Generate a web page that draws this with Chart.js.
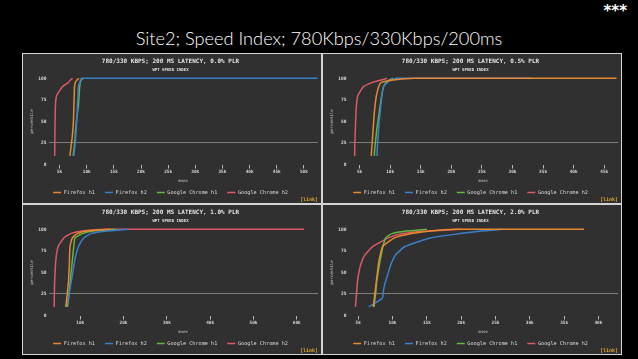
<!DOCTYPE html>
<html><head><meta charset="utf-8">
<script src="https://cdn.jsdelivr.net/npm/chart.js@4.4.0/dist/chart.umd.min.js"></script>
<style>
html,body{margin:0;padding:0;background:#000;width:638px;height:359px;overflow:hidden;}
#title{position:absolute;left:0;top:27px;width:638px;text-align:center;color:#fff;font-family:Lato,sans-serif;font-weight:300;font-size:18.2px;white-space:nowrap;}
#stars{position:absolute;right:11px;top:2px;color:#fff;font-family:"DejaVu Sans",sans-serif;font-weight:bold;font-size:15px;}
#frame{position:absolute;left:22px;top:53px;width:600px;height:302px;background:#d4d4d4;}
.panel{position:absolute;width:298px;height:149px;background:#303030;overflow:hidden;}
.panel canvas{position:absolute;left:0;top:0;}
.link{position:absolute;right:3px;bottom:1px;font:bold 5px "DejaVu Sans Mono",monospace;color:#e0a52a;}
</style></head>
<body>
<div id="title">Site2; Speed Index; 780Kbps/330Kbps/200ms</div>
<div id="stars">***</div>
<div id="frame">
  <div class="panel" style="left:1px;top:1px"><canvas id="c1" width="298" height="151"></canvas><span class="link">[link]</span></div>
  <div class="panel" style="left:301px;top:1px"><canvas id="c2" width="298" height="151"></canvas><span class="link">[link]</span></div>
  <div class="panel" style="left:1px;top:152px"><canvas id="c3" width="298" height="151"></canvas><span class="link">[link]</span></div>
  <div class="panel" style="left:301px;top:152px"><canvas id="c4" width="298" height="151"></canvas><span class="link">[link]</span></div>
</div>
<script>
// percentile levels shared by every series (last entry = maximum sample)
const PCT = [10,20,30,40,50,60,70,80,90,95,98,100,100];
const SERIES = ['Firefox h1','Firefox h2','Google Chrome h1','Google Chrome h2'];
const COLORS = ['#e8892f','#3a80c9','#62b843','#dc5a66'];
const SUBTITLE = 'WPT SPEED INDEX';
const TITLES = [
  '780/330 KBPS; 200 MS LATENCY, 0.0% PLR',
  '780/330 KBPS; 200 MS LATENCY, 0.5% PLR',
  '780/330 KBPS; 200 MS LATENCY, 1.0% PLR',
  '780/330 KBPS; 200 MS LATENCY, 2.0% PLR'
];

// Panel 1: 0.0% PLR (msec)
const P1_FF_H1 = [6900,7100,7300,7450,7550,7600,7650,7700,7750,7900,8200,8600,8600];
const P1_FF_H2 = [7600,7800,7950,8050,8150,8250,8300,8400,8450,8700,8900,9000,52500];
const P1_CH_H1 = [7500,7700,7850,7950,8100,8300,8500,8600,8700,8800,9000,9300,9300];
const P1_CH_H2 = [4100,4120,4130,4150,4170,4200,4250,4450,5500,6600,7000,7400,7400];
// Panel 2: 0.5% PLR
const P2_FF_H1 = [6900,7000,7100,7200,7300,7400,7550,7750,8100,8500,10500,14000,47000];
const P2_FF_H2 = [7850,7900,8000,8100,8200,8350,8500,8650,8900,9500,10200,11000,33000];
const P2_CH_H1 = [7400,7500,7650,7800,8000,8200,8400,8600,8900,9300,9800,10500,10500];
const P2_CH_H2 = [4200,4200,4250,4300,4350,4400,4500,4700,5600,7000,8500,9500,9500];
// Panel 3: 1.0% PLR
const P3_FF_H1 = [6700,6900,7100,7300,7400,7500,7550,7650,8200,9300,11500,17000,17000];
const P3_FF_H2 = [6600,7300,7600,7950,8300,8600,9000,9600,10800,12500,16000,21000,21000];
const P3_CH_H1 = [7050,7300,7500,7700,7900,8100,8300,8500,8800,10500,13000,18000,18000];
const P3_CH_H2 = [4000,4000,4050,4100,4200,4300,4500,4900,6200,7800,10500,16000,61700];
// Panel 4: 2.0% PLR
const P4_FF_H1 = [7200,7350,7500,7650,7800,7950,8200,8550,10300,12800,15500,19000,37900];
const P4_FF_H2 = [6550,8500,8700,9000,9400,9800,10400,11800,15500,19800,23000,26000,26000];
const P4_CH_H1 = [7300,7450,7600,7700,7900,8100,8350,8600,9000,9900,12000,15000,15000];
const P4_CH_H2 = [4600,4700,4800,4900,5100,5400,5950,7100,9400,11500,15000,20000,20000];

// x-axis ticks and ranges
const X_TICKS_1 = [5000,10000,15000,20000,25000,30000,35000,40000,45000,50000];
const X_TICKS_2 = [5000,10000,15000,20000,25000,30000,35000,40000,45000];
const X_TICKS_3 = [10000,20000,30000,40000,50000,60000];
const X_TICKS_4 = [5000,10000,15000,20000,25000,30000,35000,40000];
const X_RANGE_1 = [2980,52600];
const X_RANGE_2 = [3200,47250];
const X_RANGE_3 = [2700,64900];
const X_RANGE_4 = [3600,42850];
const Y_TICKS = [0,25,50,75,100];

const MONO = "'DejaVu Sans Mono', monospace";

function makeChart(id, title, vals, xr, xticks) {
  new Chart(document.getElementById(id), {
    type: 'line',
    data: {
      datasets: SERIES.map((name, i) => ({
        label: name,
        data: PCT.map((p, j) => ({x: vals[i][j], y: p})),
        borderColor: COLORS[i],
        backgroundColor: COLORS[i],
        borderWidth: 1.5,
        pointRadius: 0,
        tension: 0.15,
        fill: false,
        clip: false
      }))
    },
    options: {
      responsive: false,
      animation: false,
      devicePixelRatio: 1,
      layout: {padding: {top: 0, left: 0, right: 3, bottom: 0}},
      plugins: {
        title: {display: true, text: title, color: '#e4e4e4',
          font: {family: MONO, size: 6, weight: 'bold', lineHeight: 1.2}, padding: {top: 3.5, bottom: 1}},
        subtitle: {display: true, text: SUBTITLE, color: '#e4e4e4',
          font: {family: MONO, size: 4, weight: 'bold', lineHeight: 1.2}, padding: {top: 2, bottom: 5.8}},
        legend: {position: 'bottom',
          labels: {color: '#dcdcdc', font: {family: MONO, size: 5.2}, usePointStyle: true,
            pointStyle: 'line', pointStyleWidth: 8, boxHeight: 5.2, padding: 10}},
        tooltip: {enabled: false}
      },
      scales: {
        x: {
          type: 'linear', min: xr[0], max: xr[1],
          afterFit: s => { s.height = 15.3; },
          afterBuildTicks: s => { s.ticks = xticks.map(v => ({value: v})); },
          ticks: {color: '#d8d8d8', font: {family: MONO, size: 4.4, weight: 'bold'}, padding: 1,
            maxRotation: 0, autoSkip: false, callback: v => (v / 1000) + 'k'},
          grid: {display: true, drawOnChartArea: false, drawTicks: true, tickLength: 4, color: '#b8b8b8', tickColor: '#b8b8b8'},
          border: {display: false},
          title: {display: true, text: 'msec', color: '#cfcfcf', font: {family: MONO, size: 4}, padding: {top: 0, bottom: -3.2}}
        },
        y: {
          min: 0, max: 100,
          afterFit: s => { s.width = 25.6; },
          afterBuildTicks: s => { s.ticks = Y_TICKS.map(v => ({value: v})); },
          ticks: {color: '#d8d8d8', font: {family: MONO, size: 4.6, weight: 'bold'}, padding: 2},
          grid: {drawTicks: false, color: c => (c.tick && c.tick.value === 25) ? '#7c7c7c' : 'rgba(0,0,0,0)'},
          border: {display: false},
          title: {display: true, text: 'percentile', color: '#cfcfcf', font: {family: MONO, size: 4}, padding: {top: 6.6, bottom: 0}}
        }
      }
    }
  });
}

makeChart('c1', TITLES[0], [P1_FF_H1, P1_FF_H2, P1_CH_H1, P1_CH_H2], X_RANGE_1, X_TICKS_1);
makeChart('c2', TITLES[1], [P2_FF_H1, P2_FF_H2, P2_CH_H1, P2_CH_H2], X_RANGE_2, X_TICKS_2);
makeChart('c3', TITLES[2], [P3_FF_H1, P3_FF_H2, P3_CH_H1, P3_CH_H2], X_RANGE_3, X_TICKS_3);
makeChart('c4', TITLES[3], [P4_FF_H1, P4_FF_H2, P4_CH_H1, P4_CH_H2], X_RANGE_4, X_TICKS_4);
</script>
</body></html>
